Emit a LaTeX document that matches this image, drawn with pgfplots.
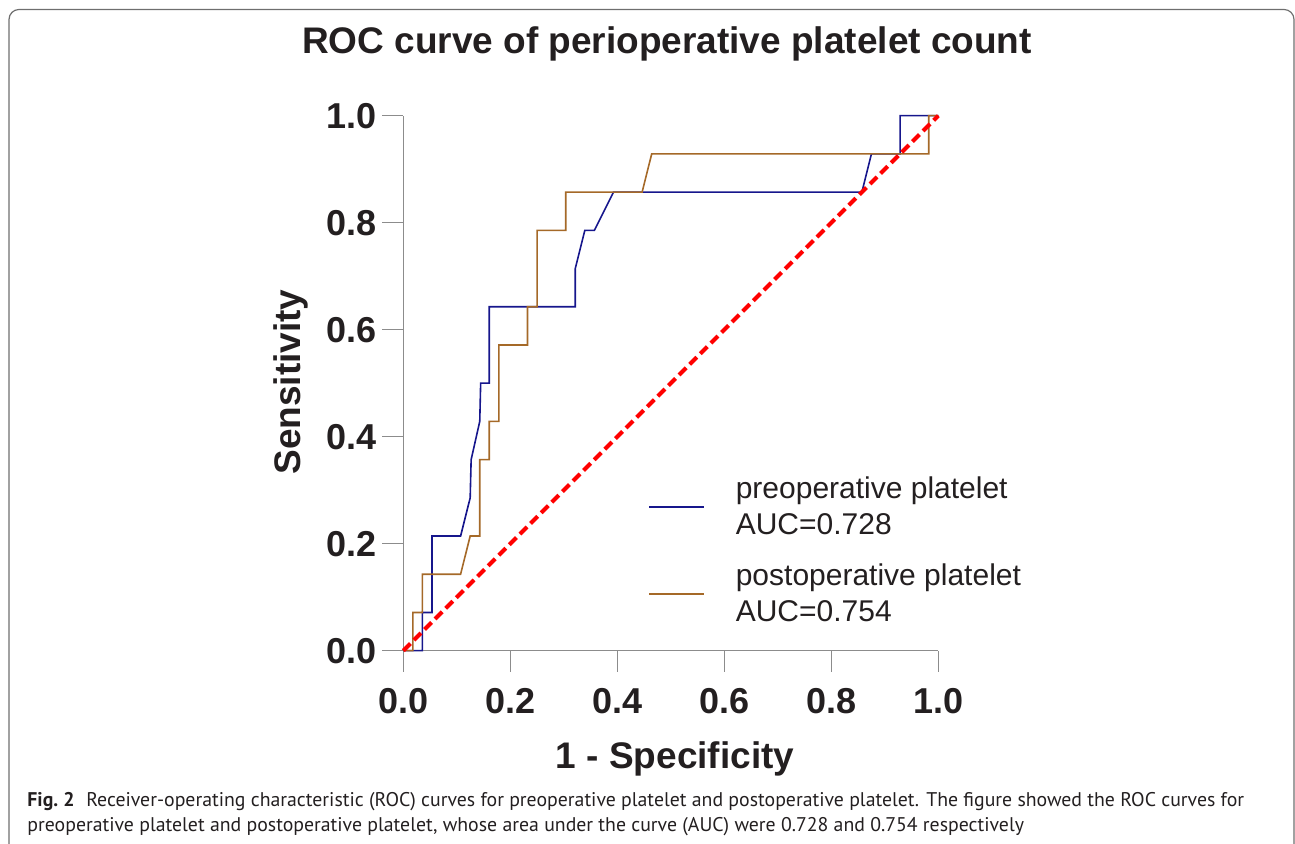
\documentclass[border=0pt]{standalone}
\usepackage{pgfplots}
\pgfplotsset{compat=1.18}
\usepackage{fontspec}
\setmainfont{Liberation Sans}
\newfontfamily\capfont{PT Sans}
\definecolor{preblue}{RGB}{22,22,140}
\definecolor{postbrown}{RGB}{165,105,40}
\definecolor{axgray}{RGB}{140,140,140}
\definecolor{txt}{RGB}{35,31,32}
\definecolor{framegray}{RGB}{110,110,110}
\begin{document}
\begin{tikzpicture}
\useasboundingbox (0pt,0pt) rectangle (647.5pt,422pt);
% frame
\draw[framegray, line width=0.6pt, rounded corners=5pt] (4.5pt,-3pt) -- (4.5pt,417.25pt) -- (647pt,417.25pt) -- (647pt,-3pt);
\begin{axis}[
  at={(201.65pt,96.65pt)}, anchor=origin,
  scale only axis, width=267.5pt, height=267.5pt,
  xmin=0, xmax=1, ymin=0, ymax=1,
  axis lines=left, axis line style={axgray, line width=0.75pt, -},
  xtick={0,0.2,0.4,0.6,0.8,1}, ytick={0,0.2,0.4,0.6,0.8,1},
  tick align=outside, major tick length=10.5pt,
  tick style={axgray, line width=0.75pt},
  /pgf/number format/assume math mode=true,
  /pgf/number format/fixed, /pgf/number format/fixed zerofill, /pgf/number format/precision=1,
  tick label style={font=\fontsize{18}{20}\selectfont\bfseries, text=txt},
  xticklabel style={inner sep=0pt, anchor=north, yshift=-8pt},
  yticklabel style={inner sep=0pt, anchor=east, xshift=-2.5pt},
  clip=false,
  title={ROC curve of perioperative platelet count},
  title style={at={(axis description cs:0.4929,1.094)}, anchor=base, font=\fontsize{18.5}{20}\selectfont\bfseries, text=txt},
  xlabel={1 - Specificity},
  xlabel style={at={(axis description cs:0.508,-0.202)}, anchor=center, font=\fontsize{18.5}{20}\selectfont\bfseries, text=txt},
  ylabel={Sensitivity},
  ylabel style={at={(axis description cs:-0.21,0.502)}, anchor=center, rotate=0, font=\fontsize{18.5}{20}\selectfont\bfseries, text=txt},
  legend style={at={(axis cs:0.4574,0.187)}, anchor=west, draw=none, fill=none, inner sep=0pt, outer sep=0pt,
    font=\fontsize{15}{18}\selectfont, text=txt, row sep=13pt,
    cells={anchor=west, align=left}, nodes={inner sep=0pt}},
  legend image code/.code={\draw[#1, line width=1pt] (0pt,0pt) -- (27.5pt,0pt); \path (43pt,0pt);},
]
\addplot[preblue, line width=0.8pt] coordinates {
(0,0) (0.0357,0) (0.0357,0.0714) (0.0536,0.0714) (0.0536,0.2143) (0.1071,0.2143)
(0.125,0.2857) (0.1268,0.3571) (0.1429,0.4286) (0.1446,0.5) (0.1607,0.5) (0.1607,0.6429)
(0.3214,0.6429) (0.3214,0.7143) (0.3393,0.7857) (0.3571,0.7857) (0.3929,0.8571)
(0.8571,0.8571) (0.875,0.9286) (0.9286,0.9286) (0.9286,1) (1,1)};
\addlegendentry{preoperative platelet\\AUC=0.728}
\addplot[postbrown, line width=0.8pt] coordinates {
(0,0) (0.0179,0) (0.0179,0.0714) (0.0357,0.0714) (0.0357,0.1429) (0.1071,0.1429)
(0.125,0.2143) (0.1429,0.2143) (0.1429,0.3571) (0.1607,0.3571) (0.1607,0.4286)
(0.1786,0.4286) (0.1786,0.5714) (0.2321,0.5714) (0.2321,0.6429) (0.25,0.6429)
(0.25,0.7857) (0.3036,0.7857) (0.3036,0.8571) (0.4464,0.8571) (0.4643,0.9286)
(0.9821,0.9286) (0.9821,1) (1,1)};
\addlegendentry{postoperative platelet\\AUC=0.754}
\addplot[red, line width=2pt, dash pattern=on 5pt off 2.5pt, forget plot] coordinates {(0,0) (1,1)};
\end{axis}
% caption
\node[anchor=base west, inner sep=0pt, text=txt, font=\capfont\fontsize{9.9}{11}\selectfont] at (13.5pt,18.5pt)
  {\textbf{Fig.~2}\hspace{0.6em}Receiver-operating characteristic (ROC) curves for preoperative platelet and postoperative platelet. The figure showed the ROC curves for};
\node[anchor=base west, inner sep=0pt, text=txt, font=\capfont\fontsize{9.9}{11}\selectfont] at (13.5pt,6pt)
  {preoperative platelet and postoperative platelet, whose area under the curve (AUC) were 0.728 and 0.754 respectively};
\end{tikzpicture}
\end{document}
